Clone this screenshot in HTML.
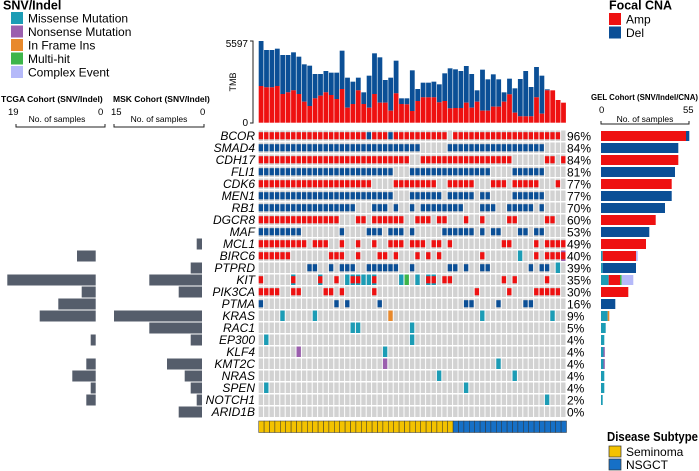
<!DOCTYPE html>
<html><head><meta charset="utf-8"><style>
html,body{margin:0;padding:0;background:#fff;}
svg{display:block;font-family:"Liberation Sans",sans-serif;}
</style></head><body>
<svg id="s" width="699" height="471" viewBox="0 0 699 471" xmlns="http://www.w3.org/2000/svg">
<text x="3" y="9.5" font-size="12.5" font-weight="bold">SNV/Indel</text>
<rect x="11" y="12" width="12" height="12" fill="#1c9cb5"/><text x="28" y="22.5" font-size="12">Missense Mutation</text>
<rect x="11" y="25.5" width="12" height="12" fill="#9b5fae"/><text x="28" y="36" font-size="12">Nonsense Mutation</text>
<rect x="11" y="39" width="12" height="12" fill="#e8892c"/><text x="28" y="49.5" font-size="12">In Frame Ins</text>
<rect x="11" y="52.5" width="12" height="12" fill="#3db54a"/><text x="28" y="63" font-size="12">Multi-hit</text>
<rect x="11" y="66" width="12" height="12" fill="#b5b9f9"/><text x="28" y="76.5" font-size="12">Complex Event</text>

<text x="609" y="9.5" font-size="12.5" font-weight="bold" textLength="63" lengthAdjust="spacingAndGlyphs">Focal CNA</text>
<rect x="609" y="13" width="12" height="12" fill="#ee1111"/><text x="626" y="23.5" font-size="12">Amp</text>
<rect x="609" y="26.5" width="12" height="12" fill="#0b4f96"/><text x="626" y="37" font-size="12">Del</text>

<text x="607" y="441" font-size="12.5" font-weight="bold" textLength="91" lengthAdjust="spacingAndGlyphs">Disease Subtype</text>
<rect x="609" y="446" width="12" height="11" fill="#f3c200" stroke="#333" stroke-width="0.7"/><text x="626" y="456" font-size="12">Seminoma</text>
<rect x="609" y="459" width="12" height="11" fill="#1670c7" stroke="#333" stroke-width="0.7"/><text x="626" y="469" font-size="12">NSGCT</text>

<text x="1" y="102" font-size="8.5" font-weight="bold">TCGA Cohort (SNV/Indel)</text>
<text x="113" y="102" font-size="8.5" font-weight="bold">MSK Cohort (SNV/Indel)</text>
<text x="8" y="115" font-size="9.5">19</text><text x="98" y="115" font-size="9.5">0</text>
<text x="111" y="115" font-size="9.5">15</text><text x="200" y="115" font-size="9.5">0</text>
<text x="57" y="122" font-size="8.5" text-anchor="middle">No. of samples</text>
<text x="159" y="122" font-size="8.5" text-anchor="middle">No. of samples</text>
<path d="M16 124V127H105V124M114 124V127H204V124" fill="none" stroke="#222" stroke-width="1"/>

<text x="591" y="100" font-size="8.5" font-weight="bold" textLength="107" lengthAdjust="spacingAndGlyphs">GEL Cohort (SNV/Indel/CNA)</text>
<text x="599" y="113" font-size="9.5">0</text><text x="683" y="113" font-size="9.5">55</text>
<text x="645" y="122" font-size="8.5" text-anchor="middle">No. of samples</text>
<path d="M601 121V124H689V121" fill="none" stroke="#222" stroke-width="1"/>

<text x="248" y="47" font-size="10" text-anchor="end">5597</text>
<text x="248" y="126" font-size="10" text-anchor="end">0</text>
<text x="0" y="0" font-size="9" text-anchor="middle" transform="translate(236,82) rotate(-90)">TMB</text>
<path d="M250 41H253V123H250" fill="none" stroke="#222" stroke-width="1"/>
<g id="g"></g>
</svg>
<script>
var g=document.getElementById('g'),h='';
function R(x,y,w,hh,c){h+='<rect x="'+x.toFixed(2)+'" y="'+y.toFixed(2)+'" width="'+w.toFixed(2)+'" height="'+hh.toFixed(2)+'" fill="'+c+'"/>';}
function T(x,y,t,a,st){h+='<text x="'+x+'" y="'+y+'" font-size="12" text-anchor="'+a+'"'+(st||'')+'>'+t+'</text>';}
var RED='#ee1111',BLU='#0b4f96',TEAL='#1c9cb5',PUR='#9b5fae',ORG='#e8892c',GRN='#3db54a',LAV='#b5b9f9';
var X0=258.7,CW=5.4,N=57;
var tmb=[[18,153],[45,157],[45,157],[41,153],[60,177],[60,172],[52,166],[65,177],[88,200],[92,213],[117,190],[117,182],[108,172],[113,180],[113,192],[47,162],[128,218],[140,207],[128,166],[172,207],[122,218],[55,177],[67,203],[135,203],[128,227],[77,175],[190,207],[190,208],[106,228],[162,198],[143,187],[143,187],[140,187],[148,202],[115,198],[100,220],[103,219],[108,219],[93,203],[117,218],[166,200],[104,227],[133,227],[118,215],[133,215],[172,200],[131,178],[160,233],[132,244],[108,244],[156,244],[96,187],[122,236],[163,166],[166,166],[195,195],[203,203]];
for(var i=0;i<N;i++){var x=X0+i*CW,t=35+tmb[i][0]/3,r=35+tmb[i][1]/3,b=122.7;
 R(x,t,CW-0.6,r-t,BLU);R(x,r,CW-0.6,b-r,RED);}
function rng(a,b){var o=[];for(var i=a;i<=b;i++)o.push(i);return o;}
function L(){var o=[];for(var k=0;k<arguments.length;k++){var v=arguments[k];if(Array.isArray(v))o=o.concat(rng(v[0],v[1]));else o.push(v);}return o;}
var genes=['BCOR','SMAD4','CDH17','FLI1','CDK6','MEN1','RB1','DGCR8','MAF','MCL1','BIRC6','PTPRD','KIT','PIK3CA','PTMA','KRAS','RAC1','EP300','KLF4','KMT2C','NRAS','SPEN','NOTCH1','ARID1B'];
var pct=['96%','84%','84%','81%','77%','77%','70%','60%','53%','49%','40%','39%','35%','30%','16%','9%','5%','4%','4%','4%','4%','4%','2%','0%'];
var amp={},del={},mut={};
amp[0]=L([0,19],[21,23],[25,34],[36,55]);del[0]=[20,24];
del[1]=L([0,29],[35,52]);
amp[2]=L([0,27],[30,46],53,54,56);
del[3]=L([0,24],[28,42],[47,52]);
amp[4]=L([0,20],[25,32],[35,39],[43,45],[47,51],55);
del[5]=L([0,24],[28,33],[35,39],41,42,[47,52]);
del[6]=L([0,17],[21,23],25,28,[30,37],[41,43],[46,50],52);
amp[7]=L([0,14],18,19,[21,26],[29,31],33,34,38,41,46,47,53,54);
del[8]=L([0,7],15,[20,22],[24,26],28,[34,39],41,43,44,48,49,51,52);
amp[9]=L([0,8],[10,12],15,18,21,[24,26],[28,30],32,33,35,45,46,51,[53,56]);
amp[10]=L([0,5],[13,15],18,22,23,25,29,31,33,41,51,[53,56]);mut[10]=[[48,TEAL],[56,PUR]];
del[11]=L(9,10,13,[15,17],[20,25],28,35,36,38,41,42,50,52,53);mut[11]=[[55,TEAL]];
amp[12]=L(0,6,11,14,17,18,21,31,32,34,35,45,47,53);mut[12]=[[6,TEAL],[11,TEAL],[16,TEAL],[17,TEAL],[18,TEAL],[19,TEAL],[20,TEAL],[21,TEAL],[26,TEAL],[27,GRN],[29,TEAL],[31,TEAL],[32,TEAL]];
amp[13]=L([0,3],6,7,12,13,15,21,40,46,[51,55]);
del[14]=L(0,14,16,22,38,39,44,49,50);
mut[15]=[[4,TEAL],[10,TEAL],[24,ORG],[41,TEAL],[54,TEAL]];
mut[16]=[[17,TEAL],[18,TEAL],[28,TEAL]];
mut[17]=[[1,TEAL],[28,TEAL]];
mut[18]=[[7,PUR],[23,TEAL]];
mut[19]=[[23,PUR],[44,TEAL]];
mut[20]=[[33,TEAL],[47,TEAL]];
mut[21]=[[1,TEAL],[38,TEAL]];
mut[22]=[[53,TEAL]];
for(var r=0;r<24;r++){var y=130.5+12*r;
 for(var c=0;c<N;c++)R(X0+c*CW,y,CW-1,10.5,'#d2d2d2');
 (mut[r]||[]).forEach(function(m){R(X0+m[0]*CW,y,CW-1,10.5,m[1]);});
 (amp[r]||[]).forEach(function(c){R(X0+c*CW,y+1.7,CW-1,7.1,RED);});
 (del[r]||[]).forEach(function(c){R(X0+c*CW,y+1.7,CW-1,7.1,BLU);});
 T(255,y+9.5,genes[r],'end',' font-style="italic"');
 T(567,y+9.8,pct[r],'start',' font-size="11.5"');
}
for(var c=0;c<N;c++){h+='<rect x="'+(X0+c*CW).toFixed(2)+'" y="421" width="'+CW+'" height="11.5" fill="'+(c<36?'#f3c200':'#1670c7')+'" stroke="#333" stroke-width="0.5"/>';}
var GR='#555d6b';
var tc={10:77,12:7.3,13:81.7,14:58.3,15:39.7,17:90.7,19:86.3,20:72.3,21:90.7,22:86.3};
for(var k in tc){var y=130.5+12*k;R(tc[k],y,95.7-tc[k],11,GR);}
var ms={9:196.7,11:190.7,12:149.3,13:178.7,15:114,16:149.3,17:190.7,19:167,20:184.7,21:190.7,22:196.7,23:178.7};
for(var k in ms){var y=130.5+12*k;R(ms[k],y,202-ms[k],11,GR);}
var gel=[[[686,RED],[689.3,BLU]],[[678.3,BLU]],[[678.3,RED]],[[675,BLU]],[[671.7,RED]],[[671.7,BLU]],[[665,BLU]],[[655.7,RED]],[[649.3,BLU]],[[646,RED]],
[[602.7,TEAL],[636,RED],[637.7,LAV]],[[602.7,TEAL],[636,BLU]],[[608.7,TEAL],[620,RED],[621.7,GRN],[633.3,LAV]],[[628.3,RED]],[[615.3,BLU]],[[607.7,TEAL],[609.3,ORG]],[[605.7,TEAL]],[[604.3,TEAL]],[[603.5,TEAL],[604.8,PUR]],[[603.5,TEAL],[604.8,PUR]],[[604.3,TEAL]],[[604.3,TEAL]],[[602.7,TEAL]],[]];
for(var r=0;r<24;r++){var x=601,y=131+12*r;gel[r].forEach(function(s){R(x,y,s[0]-x,10,s[1]);x=s[0];});}
g.innerHTML=h;
</script>
</body></html>
